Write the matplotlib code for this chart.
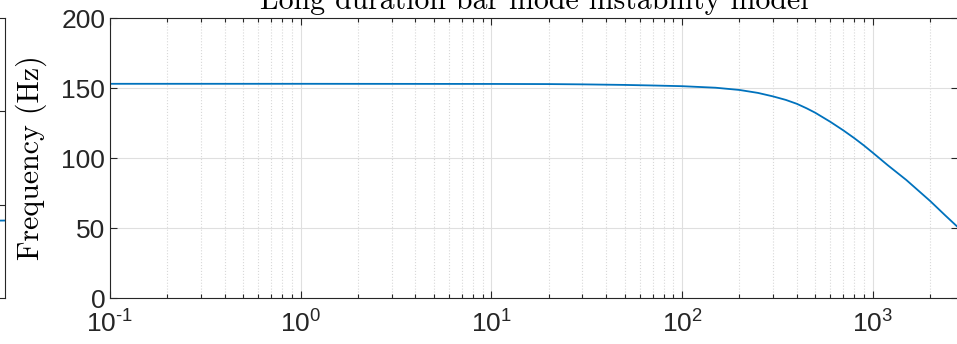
import matplotlib
matplotlib.use('Agg')
import matplotlib.pyplot as plt
import numpy as np
from matplotlib.ticker import LogLocator, FixedLocator, FuncFormatter

plt.rcParams['font.family'] = ['Liberation Sans', 'DejaVu Sans']
plt.rcParams['mathtext.default'] = 'regular'

# curve (log x axis)
x_vals = [0.1, 1, 10, 20, 30, 50, 70, 100, 150, 200, 250, 300, 350, 400,
          450, 500, 600, 700, 800, 900, 1000, 1200, 1500, 2000, 2400, 2800]
freq_hz = [153.0, 153.0, 152.9, 152.8, 152.6, 152.2, 151.8, 151.3, 150.2,
           148.6, 146.5, 144.0, 141.5, 138.7, 135.5, 132.3, 125.8, 119.8,
           114.2, 108.9, 103.8, 94.8, 84.3, 69.3, 59.0, 50.5]

# bit of the neighbouring panel showing at the left edge
left_x = [0.0, 1.0]
left_y = [0.79, 0.83]

blue = '#0072BD'

fig = plt.figure(figsize=(9.57, 3.44), dpi=100)

# main axes
ax = fig.add_axes([110/957, 46/344, 848/957, 280/344])
ax.plot(x_vals, freq_hz, color=blue, lw=1.3)
ax.set_xscale('log')
ax.set_xlim(0.1, 2800)
ax.set_ylim(0, 200)
ax.set_yticks([0, 50, 100, 150, 200])
ax.xaxis.set_major_locator(FixedLocator([0.1, 1, 10, 100, 1000]))
ax.xaxis.set_minor_locator(LogLocator(base=10, subs=np.arange(2, 10)))


def fmt(v, p):
    e = int(round(np.log10(v)))
    s = str(e).replace('-', '\u2010')
    return '$10^{%s}$' % s


ax.xaxis.set_major_formatter(FuncFormatter(fmt))
ax.grid(True, which='major', color='#dfdfdf', lw=0.8)
ax.grid(True, which='minor', axis='x', color='#d8d8d8', lw=0.8, ls=':')
ax.tick_params(which='both', direction='in', top=True, right=True,
               labelsize=19, colors='#262626', width=0.8)
ax.tick_params(which='major', length=5)
ax.tick_params(which='minor', length=3)
ax.tick_params(axis='x', pad=9)
for s in ax.spines.values():
    s.set_color('#262626')
    s.set_linewidth(0.8)
ax.set_ylabel('Frequency (Hz)', family='cmr10', fontsize=21.5, labelpad=10)
ax.set_title('Long duration bar mode instability model', family='cmr10',
             fontsize=21.5, pad=6.5)

# partial left panel
ax2 = fig.add_axes([-0.3, 46/344, 0.3 + 5/957, 280/344])
ax2.plot(left_x, left_y, color=blue, lw=1.3)
ax2.set_xlim(0, 1)
ax2.set_ylim(0, 3)
ax2.set_yticks([1, 2])
ax2.set_xticks([])
ax2.tick_params(direction='in', right=True, left=False, labelleft=False,
                length=5, colors='#262626', width=0.8)
for s in ax2.spines.values():
    s.set_color('#262626')
    s.set_linewidth(0.8)

fig.savefig('out.png', dpi=100)
